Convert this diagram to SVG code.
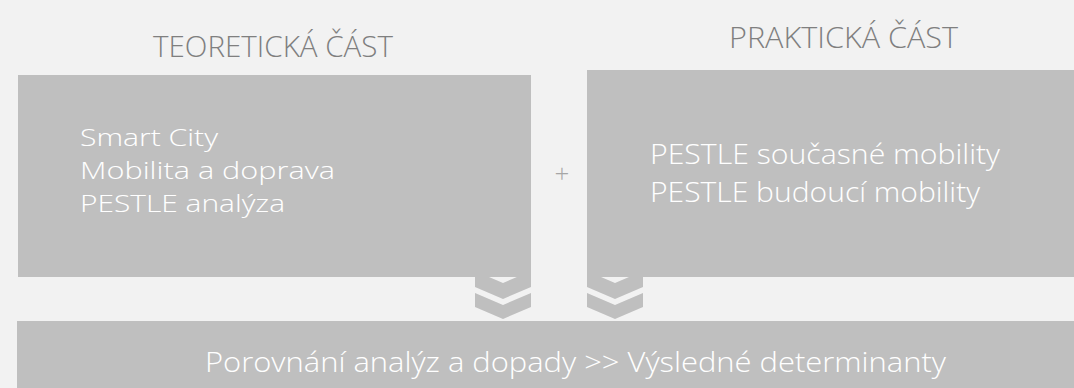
<svg xmlns="http://www.w3.org/2000/svg" width="1074" height="388" viewBox="0 0 1074 388">
  <style>
    .box { fill: #bfbfbf; }
    .chev { fill: #bfbfbf; }
    .title { font-family: "Open Sans", "Lato", "Liberation Sans", sans-serif; font-weight: 300; font-size: 30px; fill: #7f7f7f; }
    .body { font-family: "Open Sans", "Lato", "Liberation Sans", sans-serif; font-weight: 300; font-size: 27px; fill: #ffffff; }
    .list { font-size: 24px; }
    .plus { font-family: "Open Sans", "Lato", "Liberation Sans", sans-serif; font-weight: 300; font-size: 26px; fill: #a6a6a6; }
  </style>
  <rect width="1074" height="388" fill="#f2f2f2"/>

  <!-- downward chevrons between the upper boxes and the result bar -->
  <g id="connectors">
    <polygon class="chev" points="475,271 503,283 531,271 531,287 503,299 475,287"/>
    <polygon class="chev" points="475,293 503,305 531,293 531,307 503,319 475,307"/>
    <polygon class="chev" points="587,271 615,283 643,271 643,287 615,299 587,287"/>
    <polygon class="chev" points="587,293 615,305 643,293 643,307 615,319 587,307"/>
  </g>

  <g id="theory">
    <text class="title" x="153" y="57" textLength="240" lengthAdjust="spacingAndGlyphs">TEORETICKÁ ČÁST</text>
    <rect class="box" x="18" y="75" width="513" height="202"/>
    <text class="body list" x="80" y="146" textLength="138" lengthAdjust="spacingAndGlyphs">Smart City</text>
    <text class="body list" x="80" y="179" textLength="255" lengthAdjust="spacingAndGlyphs">Mobilita a doprava</text>
    <text class="body list" x="80" y="212" textLength="205" lengthAdjust="spacingAndGlyphs">PESTLE analýza</text>
  </g>

  <g id="plus">
    <text class="plus" x="562" y="183" text-anchor="middle">+</text>
  </g>

  <g id="practice">
    <text class="title" x="729" y="48" textLength="229" lengthAdjust="spacingAndGlyphs">PRAKTICKÁ ČÁST</text>
    <rect class="box" x="587" y="70" width="487" height="207"/>
    <text class="body" x="650" y="164" textLength="350" lengthAdjust="spacingAndGlyphs">PESTLE současné mobility</text>
    <text class="body" x="650" y="202" textLength="330" lengthAdjust="spacingAndGlyphs">PESTLE budoucí mobility</text>
  </g>

  <g id="result">
    <rect class="box" x="17" y="321" width="1057" height="67"/>
    <text class="body" x="205" y="372" textLength="741" lengthAdjust="spacingAndGlyphs">Porovnání analýz a dopady &gt;&gt; Výsledné determinanty</text>
  </g>
</svg>
